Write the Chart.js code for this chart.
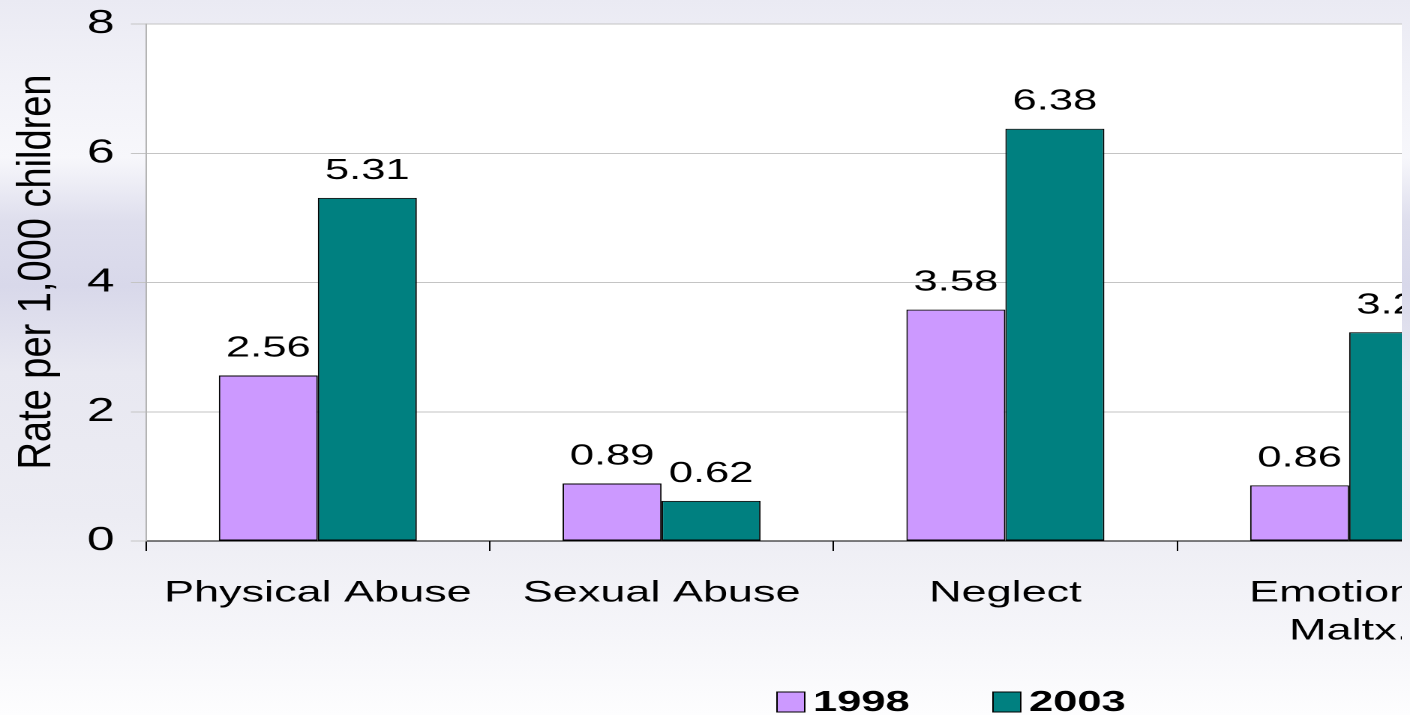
<!DOCTYPE html>
<html>
<head>
<meta charset="utf-8">
<script src="https://cdn.jsdelivr.net/npm/chart.js@4.4.0/dist/chart.umd.min.js"></script>
<style>
html, body { margin: 0; padding: 0; width: 1410px; height: 715px; overflow: hidden; }
body {
    background: linear-gradient(to bottom,
        #eaeaf3 0%, #f2f2f8 12%, #f7f7fb 22%, #dedeed 31%, #d8d8ea 40%,
        #e8e8f1 52%, #ececf3 72%, #f5f5f9 88%, #fdfdfe 100%);
}
#clip { position: absolute; left: 0; top: 0; width: 1402px; height: 715px; overflow: hidden; }
/* the reference is a horizontally stretched picture, so the whole canvas is stretched */
#stretch { width: 1024px; height: 715px; transform: scaleX(1.5); transform-origin: 0 0; }
</style>
</head>
<body>
<div id="clip"><div id="stretch"><canvas id="chart" width="1024" height="715"></canvas></div></div>
<script>
// ======== DATI ========
const categories = ['Physical Abuse', 'Sexual Abuse', 'Neglect', ['Emotional', 'Maltx.']];
const seriesNames = ['1998', '2003'];
const values1998 = [2.56, 0.89, 3.58, 0.86];
const values2003 = [5.31, 0.62, 6.38, 3.23];
const yTicks = [0, 2, 4, 6, 8];
const yTitle = 'Rate per 1,000 children';

const FONT = '"Liberation Sans", Arial, sans-serif';
const SX = 1.5; // stretch factor of the wrapper

Chart.defaults.font.family = FONT;
Chart.defaults.color = '#000';

// sfondo bianco dell'area del grafico
const plotBackground = {
    id: 'plotBackground',
    beforeDraw(chart) {
        const a = chart.chartArea;
        const ctx = chart.ctx;
        ctx.save();
        ctx.fillStyle = '#ffffff';
        ctx.fillRect(a.left, a.top, a.right - a.left, a.bottom - a.top);
        ctx.restore();
    }
};

// etichette dei valori sopra le barre
const valueLabels = {
    id: 'valueLabels',
    afterDatasetsDraw(chart) {
        const ctx = chart.ctx;
        ctx.save();
        ctx.font = '29px ' + FONT;
        ctx.fillStyle = '#000';
        ctx.textAlign = 'center';
        ctx.textBaseline = 'alphabetic';
        chart.data.datasets.forEach((ds, i) => {
            chart.getDatasetMeta(i).data.forEach((bar, j) => {
                ctx.fillText(ds.data[j].toFixed(2), bar.x, bar.y - 19);
            });
        });
        ctx.restore();
    }
};

// titolo asse y (quasi non stirato)
const yAxisTitle = {
    id: 'yAxisTitle',
    afterDraw(chart) {
        const ctx = chart.ctx;
        ctx.save();
        ctx.translate(37 / SX, 272);
        ctx.scale(1.25 / SX, 1);
        ctx.rotate(-Math.PI / 2);
        ctx.font = '38px ' + FONT;
        ctx.fillStyle = '#000';
        ctx.textAlign = 'center';
        ctx.textBaseline = 'middle';
        ctx.fillText(yTitle, 0, 0);
        ctx.restore();
    }
};

// legenda in basso
const legendRow = {
    id: 'legendRow',
    afterDraw(chart) {
        const ctx = chart.ctx;
        const left = 518, gap = 144, cy = 702;
        ctx.save();
        ctx.font = 'bold 29px ' + FONT;
        ctx.textBaseline = 'middle';
        ctx.textAlign = 'left';
        chart.data.datasets.forEach((ds, i) => {
            const x = left + i * gap;
            ctx.fillStyle = ds.backgroundColor;
            ctx.fillRect(x, cy - 10, 18.5, 20);
            ctx.strokeStyle = '#000';
            ctx.lineWidth = 1;
            ctx.strokeRect(x, cy - 10, 18.5, 20);
            ctx.fillStyle = '#000';
            ctx.fillText(ds.label, x + 24, cy + 1);
        });
        ctx.restore();
    }
};

new Chart(document.getElementById('chart').getContext('2d'), {
    type: 'bar',
    data: {
        labels: categories,
        datasets: [
            { label: seriesNames[0], data: values1998, backgroundColor: '#cc99ff' },
            { label: seriesNames[1], data: values2003, backgroundColor: '#008080' }
        ]
    },
    options: {
        responsive: false,
        animation: false,
        devicePixelRatio: 2,
        layout: { padding: { top: 24, right: 10, bottom: 74, left: 0 } },
        datasets: {
            bar: {
                categoryPercentage: 0.576,
                barPercentage: 1.0,
                borderColor: '#000',
                borderWidth: 1,
                borderSkipped: false
            }
        },
        plugins: {
            legend: { display: false },
            tooltip: { enabled: false }
        },
        scales: {
            x: {
                grid: { drawOnChartArea: false, offset: true, tickLength: 10, color: '#000' },
                border: { color: '#000', width: 1 },
                ticks: { color: '#000', font: { size: 30, lineHeight: 1.27 }, padding: 23, maxRotation: 0, autoSkip: false },
                afterFit(s) { s.height = 100; }
            },
            y: {
                min: yTicks[0],
                max: yTicks[yTicks.length - 1],
                afterBuildTicks(s) { s.ticks = yTicks.map(v => ({ value: v })); },
                ticks: { color: '#000', font: { size: 33, lineHeight: 1 }, padding: 11 },
                grid: { color: '#c4c4c4', tickLength: 10, tickColor: '#c4c4c4' },
                border: { color: '#b4b4b4', width: 1 },
                afterFit(s) { s.width = 97.3; s.paddingTop = 0; s.paddingBottom = 0; }
            }
        }
    },
    plugins: [plotBackground, valueLabels, yAxisTitle, legendRow]
});
</script>
</body>
</html>
